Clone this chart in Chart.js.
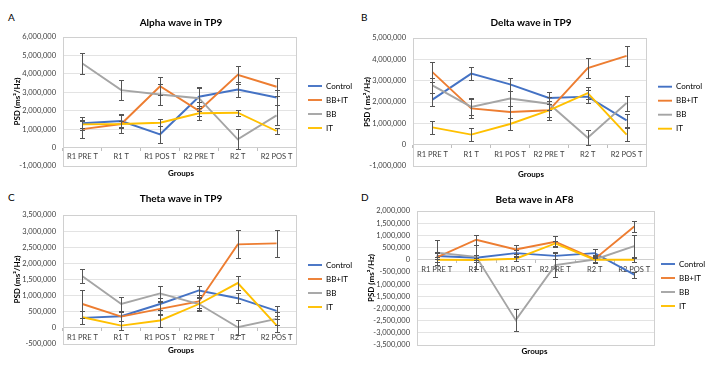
<!DOCTYPE html>
<html>
<head>
<meta charset="utf-8">
<script src="https://cdn.jsdelivr.net/npm/chart.js@4.4.1/dist/chart.umd.min.js"></script>
<style>
  body { margin: 0; background: #fff; width: 706px; height: 373px; overflow: hidden; position: relative; font-family: Lato, sans-serif; }
  canvas { position: absolute; }
  .tag { position: absolute; font-size: 10px; color: #000; }
</style>
</head>
<body>
<div class="tag" style="left:8px;top:11px">A</div>
<div class="tag" style="left:361px;top:11px">B</div>
<div class="tag" style="left:8px;top:191px">C</div>
<div class="tag" style="left:361px;top:191px">D</div>
<canvas id="cA" width="353" height="186" style="left:0;top:0"></canvas>
<canvas id="cB" width="353" height="186" style="left:353px;top:0"></canvas>
<canvas id="cC" width="353" height="187" style="left:0;top:186px"></canvas>
<canvas id="cD" width="353" height="187" style="left:353px;top:186px"></canvas>
<script>
const groups = ["R1 PRE T", "R1 T", "R1 POS T", "R2 PRE T", "R2 T", "R2 POS T"];
const seriesNames = ["Control", "BB+IT", "BB", "IT"];

// Alpha wave in TP9
const alphaControl = [1320000, 1440000, 720000, 2760000, 3150000, 2720000];
const alphaBBIT    = [1000000, 1280000, 3330000, 2000000, 3950000, 3300000];
const alphaBB      = [4560000, 3120000, 2880000, 2680000, 450000, 1750000];
const alphaIT      = [1260000, 1280000, 1350000, 1860000, 1890000, 900000];
const alphaControlErr = [350000, 400000, 450000, 500000, 400000, 400000];
const alphaBBITErr    = [500000, 500000, 480000, 500000, 500000, 480000];
const alphaBBErr      = [560000, 560000, 550000, 550000, 550000, 550000];
const alphaITErr      = [200000, 150000, 200000, 150000, 170000, 150000];

// Delta wave in TP9
const deltaControl = [2110000, 3330000, 2830000, 2190000, 2250000, 1140000];
const deltaBBIT    = [3400000, 1700000, 1530000, 1610000, 3590000, 4160000];
const deltaBB      = [2780000, 1770000, 2160000, 1920000, 330000, 1950000];
const deltaIT      = [810000, 470000, 970000, 1610000, 2420000, 470000];
const deltaControlErr = [300000, 300000, 300000, 300000, 300000, 300000];
const deltaBBITErr    = [480000, 450000, 300000, 450000, 480000, 480000];
const deltaBBErr      = [350000, 400000, 350000, 300000, 350000, 350000];
const deltaITErr      = [300000, 300000, 300000, 300000, 300000, 300000];

// Theta wave in TP9
const thetaControl = [310000, 360000, 740000, 1160000, 920000, 530000];
const thetaBBIT    = [740000, 350000, 590000, 820000, 2590000, 2620000];
const thetaBB      = [1600000, 740000, 1070000, 740000, 20000, 280000];
const thetaIT      = [330000, 70000, 230000, 740000, 1390000, 80000];
const thetaControlErr = [200000, 150000, 200000, 150000, 150000, 150000];
const thetaBBITErr    = [420000, 150000, 200000, 200000, 430000, 430000];
const thetaBBErr      = [220000, 220000, 230000, 230000, 230000, 200000];
const thetaITErr      = [200000, 150000, 200000, 200000, 220000, 200000];

// Beta wave in AF8
const betaControl = [150000, 80000, 270000, 160000, 270000, -610000];
const betaBBIT    = [100000, 820000, 420000, 740000, 30000, 1360000];
const betaBB      = [290000, 120000, -2480000, -220000, 10000, 560000];
const betaIT      = [0, -10000, 40000, 670000, 0, 0];
const betaControlErr = [140000, 100000, 140000, 140000, 180000, 120000];
const betaBBITErr    = [200000, 200000, 200000, 220000, 150000, 220000];
const betaBBErr      = [500000, 500000, 460000, 500000, 150000, 470000];
const betaITErr      = [100000, 100000, 100000, 100000, 100000, 100000];

const lineColors = ["#4472C4", "#ED7D31", "#A5A5A5", "#FFC000"];
Chart.defaults.font.family = "Lato, 'Open Sans', sans-serif";

const errorBars = {
  id: "errorBars",
  afterDatasetsDraw(chart) {
    const ctx = chart.ctx, xs = chart.scales.x, ys = chart.scales.y;
    ctx.save();
    ctx.strokeStyle = "#555";
    ctx.lineWidth = 1;
    chart.data.datasets.forEach(ds => {
      ds.data.forEach((v, i) => {
        const e = ds.errors[i];
        const px = Math.round(xs.getPixelForValue(i)) + 0.5;
        const top = Math.round(ys.getPixelForValue(v + e)) + 0.5;
        const bot = Math.round(ys.getPixelForValue(v - e)) + 0.5;
        ctx.beginPath();
        ctx.moveTo(px, top); ctx.lineTo(px, bot);
        ctx.moveTo(px - 2.5, top); ctx.lineTo(px + 2.5, top);
        ctx.moveTo(px - 2.5, bot); ctx.lineTo(px + 2.5, bot);
        ctx.stroke();
      });
    });
    ctx.restore();
  }
};

// light frame round the plot area, like the spreadsheet original
const plotFrame = {
  id: "plotFrame",
  beforeDatasetsDraw(chart) {
    const a = chart.chartArea, ctx = chart.ctx;
    ctx.save();
    ctx.strokeStyle = "#D0D0D0";
    ctx.lineWidth = 1;
    ctx.strokeRect(Math.round(a.left) + 0.5, Math.round(a.top) + 0.5,
      Math.round(a.right - a.left), Math.round(a.bottom - a.top));
    ctx.restore();
  }
};

function makeChart(id, title, yTitle, min, max, step, values, errs, lay) {
  const datasets = seriesNames.map((name, k) => ({
    label: name,
    data: values[k],
    errors: errs[k],
    borderColor: lineColors[k],
    backgroundColor: lineColors[k],
    borderWidth: 1.9,
    pointRadius: 0,
    tension: 0,
    order: 4 - k
  }));
  return new Chart(document.getElementById(id), {
    type: "line",
    data: { labels: groups, datasets: datasets },
    plugins: [plotFrame, errorBars],
    options: {
      responsive: false,
      animation: false,
      layout: { padding: { left: lay.left, right: lay.right, top: 0, bottom: 0 } },
      plugins: {
        title: {
          display: true, text: title, color: "#000",
          font: { size: 10, weight: "bold" },
          padding: lay.titlePad
        },
        subtitle: {
          display: true, position: "bottom", text: "Groups", color: "#000",
          font: { size: 8, weight: "bold" },
          padding: lay.subPad
        },
        legend: {
          position: "right",
          fullSize: false,
          reverse: true,
          maxWidth: 50,
          title: { display: true, text: " ", color: "rgba(0,0,0,0)", font: { size: 8 }, padding: { top: lay.legendTop, bottom: 0 } },
          labels: {
            usePointStyle: true, pointStyle: "line", pointStyleWidth: 14,
            boxHeight: 8, padding: 6, color: "#000",
            font: { size: 8 }
          }
        },
        tooltip: { enabled: false }
      },
      scales: {
        x: {
          type: "category",
          position: { y: 0 },
          offset: true,
          grid: { drawOnChartArea: false, drawTicks: true, tickLength: 3, offset: true, color: "#BFBFBF" },
          border: { display: true, color: "#D0D0D0" },
          ticks: { padding: 2, color: "#404040", font: { size: 7.5 }, maxRotation: 0, autoSkip: false }
        },
        y: {
          min: min, max: max,
          afterFit(s) { s.width = 53; },
          grid: { color: "#E3E3E3", drawTicks: false },
          border: { display: false },
          ticks: {
            stepSize: step, padding: 7, color: "#404040", font: { size: 7.5 }, autoSkip: false,
            callback: v => v.toLocaleString("en-US")
          },
          title: {
            display: true, text: yTitle, color: "#000",
            font: { size: 8, weight: "bold" },
            padding: { top: 3, bottom: 0 }
          }
        },
        gap: {
          type: "linear",
          position: "right",
          display: true,
          grid: { display: false },
          border: { display: false },
          ticks: { display: false },
          afterFit(s) { s.width = lay.gap; }
        }
      }
    }
  });
}

makeChart("cA", "Alpha wave in TP9", "PSD (ms\u00B2/Hz)", -1000000, 6000000, 1000000,
  [alphaControl, alphaBBIT, alphaBB, alphaIT],
  [alphaControlErr, alphaBBITErr, alphaBBErr, alphaITErr],
  { left: 10, right: 1, gap: 6, legendTop: 1.4,
    titlePad: { top: 16.5, bottom: 8.5 }, subPad: { top: 2.2, bottom: 8.2 } });
makeChart("cB", "Delta wave in TP9", "PSD ( ms\u00B2/Hz)", -1000000, 5000000, 1000000,
  [deltaControl, deltaBBIT, deltaBB, deltaIT],
  [deltaControlErr, deltaBBITErr, deltaBBErr, deltaITErr],
  { left: 7, right: 4, gap: 6, legendTop: 1.8,
    titlePad: { top: 16.5, bottom: 9.5 }, subPad: { top: 3.2, bottom: 7.2 } });
makeChart("cC", "Theta wave in TP9", "PSD (ms\u00B2/Hz)", -500000, 3500000, 500000,
  [thetaControl, thetaBBIT, thetaBB, thetaIT],
  [thetaControlErr, thetaBBITErr, thetaBBErr, thetaITErr],
  { left: 10, right: 1, gap: 6, legendTop: 3.4,
    titlePad: { top: 7, bottom: 10 }, subPad: { top: 1.2, bottom: 18.2 } });
makeChart("cD", "Beta wave in AF8", "PSD (ms\u00B2/Hz)", -3500000, 2000000, 500000,
  [betaControl, betaBBIT, betaBB, betaIT],
  [betaControlErr, betaBBITErr, betaBBErr, betaITErr],
  { left: 11, right: 1, gap: 1, legendTop: 4.4,
    titlePad: { top: 8, bottom: 5 }, subPad: { top: 1.2, bottom: 17.2 } });
</script>
</body>
</html>
